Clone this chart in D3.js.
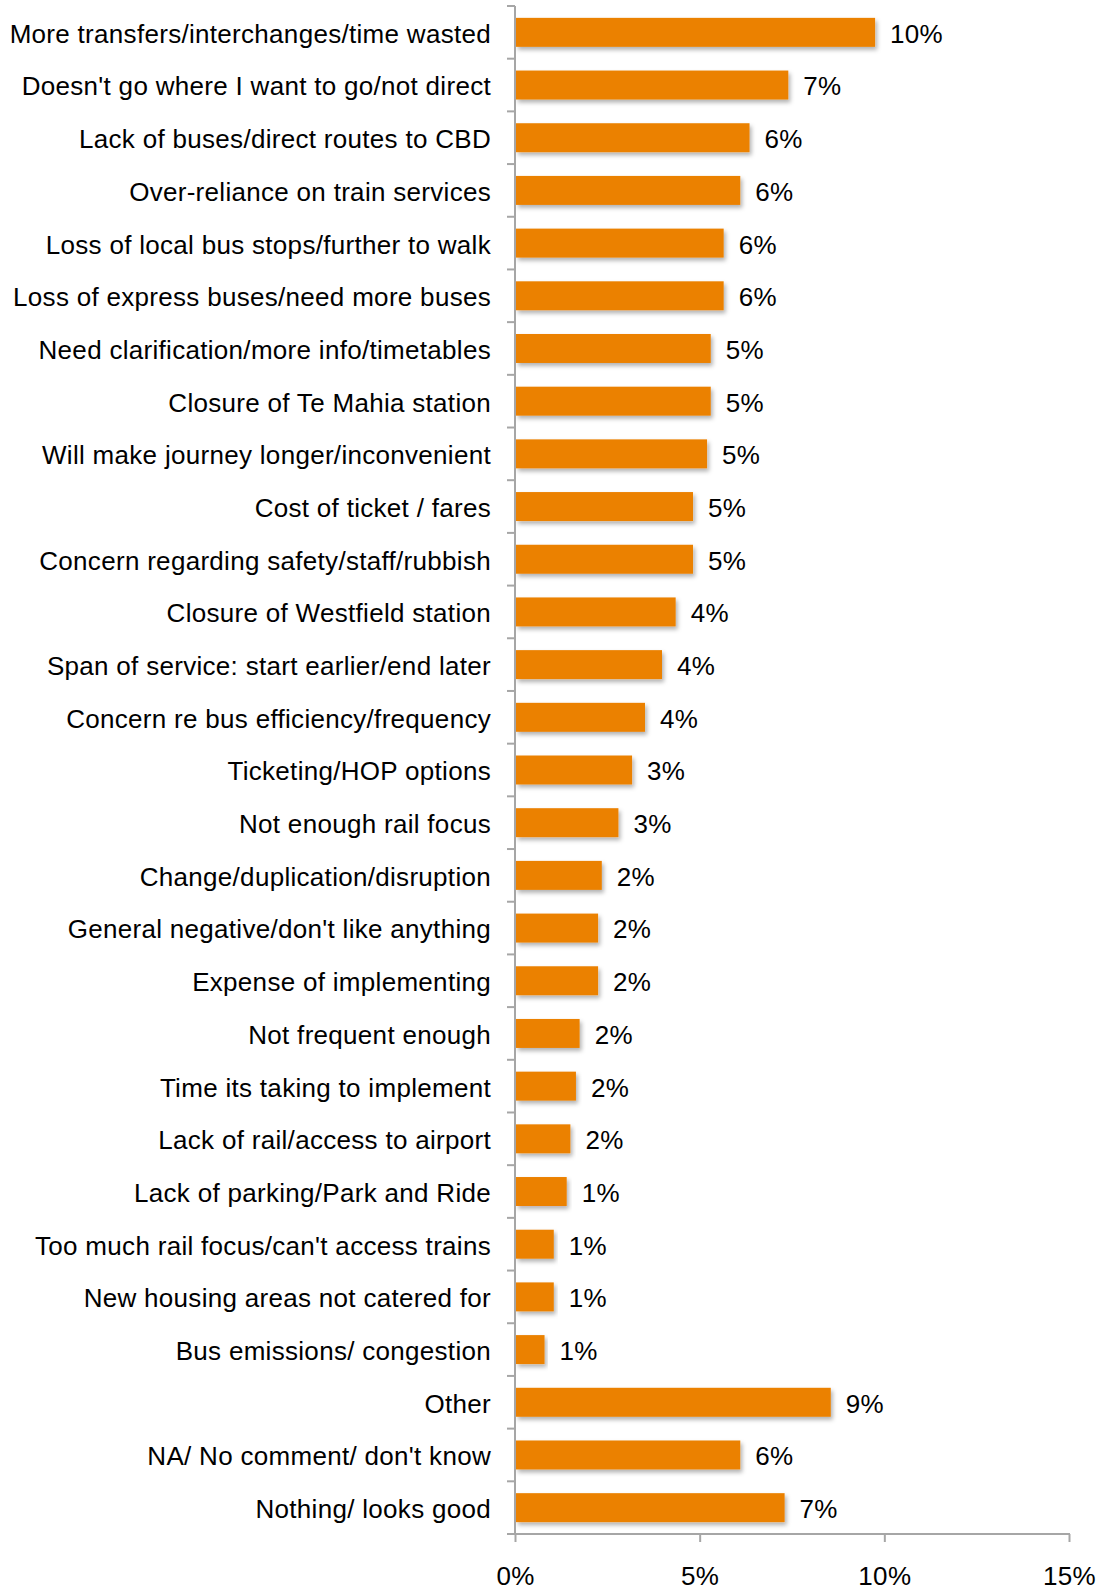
<!DOCTYPE html>
<html>
<head>
<meta charset="utf-8">
<script src="https://cdn.jsdelivr.net/npm/d3@7"></script>
<style>
  html, body { margin: 0; padding: 0; background: #fff; }
  svg { display: block; }
  text { font-family: "Liberation Sans", Arial, sans-serif; fill: #000; }
</style>
</head>
<body>
<svg id="chart" width="1106" height="1592"></svg>
<script>
// Reasons for concern, in display order (top to bottom)
const categories = [
  "More transfers/interchanges/time wasted",
  "Doesn't go where I want to go/not direct",
  "Lack of buses/direct routes to CBD",
  "Over-reliance on train services",
  "Loss of local bus stops/further to walk",
  "Loss of express buses/need more buses",
  "Need clarification/more info/timetables",
  "Closure of Te Mahia station",
  "Will make journey longer/inconvenient",
  "Cost of ticket / fares",
  "Concern regarding safety/staff/rubbish",
  "Closure of Westfield station",
  "Span of service: start earlier/end later",
  "Concern re bus efficiency/frequency",
  "Ticketing/HOP options",
  "Not enough rail focus",
  "Change/duplication/disruption",
  "General negative/don't like anything",
  "Expense of implementing",
  "Not frequent enough",
  "Time its taking to implement",
  "Lack of rail/access to airport",
  "Lack of parking/Park and Ride",
  "Too much rail focus/can't access trains",
  "New housing areas not catered for",
  "Bus emissions/ congestion",
  "Other",
  "NA/ No comment/ don't know",
  "Nothing/ looks good"
];

// Share of respondents (%)
const values = [
  9.75, 7.4, 6.35, 6.1, 5.65, 5.65, 5.3, 5.3, 5.2, 4.82, 4.82, 4.35, 3.98,
  3.52, 3.17, 2.8, 2.35, 2.25, 2.25, 1.75, 1.65, 1.5, 1.4, 1.05, 1.05, 0.8,
  8.55, 6.1, 7.3
];

// Value axis ticks (%)
const xTicks = [0, 5, 10, 15];

const data = categories.map((c, i) => ({ category: c, value: values[i] }));

const svg = d3.select("#chart");
const margin = { top: 6, left: 515, right: 37, bottom: 58 };
const width = 1106, height = 1592;
const fontSize = "26px";
const letterSpacing = "0.3px";

const x = d3.scaleLinear()
  .domain([0, 15])
  .range([margin.left, width - margin.right]);

const y = d3.scaleBand()
  .domain(categories)
  .range([margin.top, height - margin.bottom])
  .paddingInner(0.45)
  .paddingOuter(0.225);

// Soft drop shadow under each bar
const defs = svg.append("defs");
const shadow = defs.append("filter")
  .attr("id", "barShadow")
  .attr("x", "-5%").attr("y", "-20%")
  .attr("width", "115%").attr("height", "160%");
shadow.append("feDropShadow")
  .attr("dx", 2).attr("dy", 3)
  .attr("stdDeviation", 2)
  .attr("flood-color", "#000")
  .attr("flood-opacity", 0.3);

// Bars
svg.append("g")
  .selectAll("rect")
  .data(data)
  .join("rect")
  .attr("x", x(0) + 1)
  .attr("y", d => y(d.category))
  .attr("width", d => x(d.value) - x(0) - 1)
  .attr("height", y.bandwidth())
  .attr("fill", "#EB8105")
  .attr("filter", "url(#barShadow)");

// Value labels
svg.append("g")
  .selectAll("text")
  .data(data)
  .join("text")
  .attr("x", d => x(d.value) + 15)
  .attr("y", d => y(d.category) + y.bandwidth() / 2)
  .attr("dy", "0.4em")
  .style("font-size", fontSize)
  .style("letter-spacing", letterSpacing)
  .text(d => Math.round(d.value) + "%");

// Category axis: line with ticks at band boundaries
const axisColor = "#a6a6a6";
const yAxis = svg.append("g");
yAxis.append("line")
  .attr("x1", x(0)).attr("x2", x(0))
  .attr("y1", margin.top).attr("y2", height - margin.bottom)
  .attr("stroke", axisColor).attr("stroke-width", 2);
const step = y.step();
const boundaries = d3.range(categories.length + 1).map(i => margin.top + i * step);
yAxis.selectAll("line.tick")
  .data(boundaries)
  .join("line")
  .attr("class", "tick")
  .attr("x1", x(0) - 8).attr("x2", x(0))
  .attr("y1", d => d).attr("y2", d => d)
  .attr("stroke", axisColor).attr("stroke-width", 2);

// Category labels
svg.append("g")
  .selectAll("text")
  .data(categories)
  .join("text")
  .attr("x", x(0) - 24)
  .attr("y", d => y(d) + y.bandwidth() / 2)
  .attr("dy", "0.4em")
  .attr("text-anchor", "end")
  .style("font-size", fontSize)
  .style("letter-spacing", letterSpacing)
  .text(d => d);

// Value axis
const xAxis = d3.axisBottom(x)
  .tickValues(xTicks)
  .tickFormat(d => d + "%")
  .tickSize(8)
  .tickSizeOuter(0)
  .tickPadding(25);

const gx = svg.append("g")
  .attr("transform", `translate(0,${height - margin.bottom})`)
  .call(xAxis);
gx.select(".domain")
  .attr("stroke", axisColor).attr("stroke-width", 2)
  .attr("d", `M${x(0) - 1},0H${x(15) + 1}`);
gx.selectAll(".tick line").attr("stroke", axisColor).attr("stroke-width", 2);
gx.selectAll(".tick text")
  .style("font-size", fontSize)
  .style("letter-spacing", letterSpacing)
  .style("font-family", "'Liberation Sans', Arial, sans-serif")
  .attr("fill", "#000");
</script>
</body>
</html>
